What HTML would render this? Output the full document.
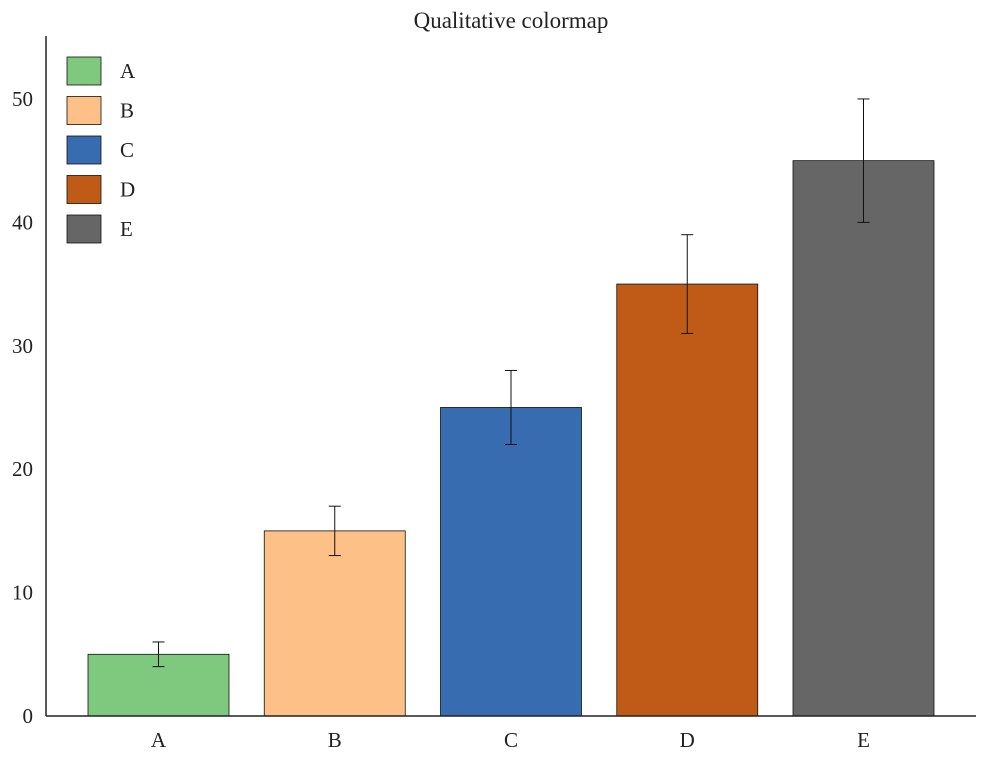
<!DOCTYPE html>
<html><head><meta charset="utf-8"><style>
body{margin:0;background:#fff}
svg{font-family:"Liberation Serif","DejaVu Serif",serif}
</style></head><body>
<svg id="chart" width="986" height="761" xmlns="http://www.w3.org/2000/svg">
<text x="511" y="28" text-anchor="middle" font-size="23" fill="#222">Qualitative colormap</text>
<g id="plot"></g>
</svg>
<script>
const categories = ["A","B","C","D","E"];
const values = [5,15,25,35,45];
const errors = [1,2,3,4,5];
const colors = ["#7fc97f","#fdc086","#386cb0","#bf5b17","#666666"];
const yTicks = [0,10,20,30,40,50];

const pL=46,pR=976,pT=36,pB=716,yMax=55.1;
const step=176.25, firstCenter=158.5, barW=141;
const ns="http://www.w3.org/2000/svg";
const g=document.getElementById('plot');
function yS(v){return pB-(v/yMax)*(pB-pT);}
function xc(i){return firstCenter+i*step;}
function mk(t,a,p){const e=document.createElementNS(ns,t);for(const k in a)e.setAttribute(k,a[k]);(p||g).appendChild(e);return e;}

categories.forEach((c,i)=>{
  const r=mk('rect',{x:xc(i)-barW/2,y:yS(values[i]),width:barW,height:yS(0)-yS(values[i]),fill:colors[i],stroke:'#111','stroke-width':0.8});
  
  
  const eg=mk('g',{stroke:'#111','stroke-width':1});
  
  
  const cx=xc(i),y1=yS(values[i]+errors[i]),y2=yS(values[i]-errors[i]);
  mk('line',{x1:cx,x2:cx,y1:y1,y2:y2},eg);
  mk('line',{x1:cx-6,x2:cx+6,y1:y1,y2:y1},eg);
  mk('line',{x1:cx-6,x2:cx+6,y1:y2,y2:y2},eg);
  const t=mk('text',{x:cx,y:pB+31,'text-anchor':'middle','font-size':21,fill:'#222'});
  t.textContent=c;
  
  
  const ly=57+i*39.5;
  const s=mk('rect',{x:67,y:ly,width:34,height:28,fill:colors[i],stroke:'#111','stroke-width':0.8});
  
  
  const lt=mk('text',{x:120,y:ly+21,'font-size':21,fill:'#222'});
  lt.textContent=c;
  
  
});
yTicks.forEach(v=>{
  const t=mk('text',{x:33,y:yS(v)+7,'text-anchor':'end','font-size':21,fill:'#222'});
  t.textContent=v;
  
  
});
const ya=mk('line',{x1:pL,x2:pL,y1:pT,y2:pB,stroke:'#222','stroke-width':1.5});


const xa=mk('line',{x1:pL,x2:pR,y1:pB,y2:pB,stroke:'#222','stroke-width':1.5});


</script>
</body></html>
